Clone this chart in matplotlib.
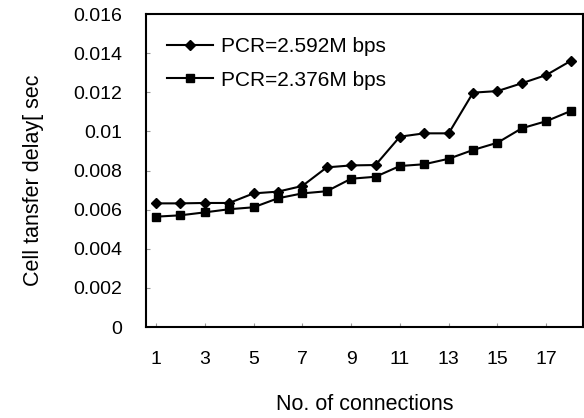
import matplotlib
matplotlib.use("Agg")
import matplotlib.pyplot as plt

plt.rcParams['font.family'] = ['Liberation Sans', 'DejaVu Sans']

connections = list(range(1, 19))
pcr_2592 = [0.00632, 0.00632, 0.00634, 0.00634, 0.00683, 0.00692, 0.00721, 0.00816, 0.00826,
            0.00828, 0.00973, 0.0099, 0.0099, 0.01198, 0.01206, 0.01246, 0.01288, 0.0136]
pcr_2376 = [0.00564, 0.00571, 0.00586, 0.00602, 0.00612, 0.00658, 0.00683, 0.00694, 0.00758,
            0.00768, 0.00823, 0.00832, 0.0086, 0.00905, 0.00942, 0.01016, 0.01052, 0.01104]
xticks = [1, 3, 5, 7, 9, 11, 13, 15, 17]
yticks = [0, 0.002, 0.004, 0.006, 0.008, 0.01, 0.012, 0.014, 0.016]
ytick_labels = ['0', '0.002', '0.004', '0.006', '0.008', '0.01', '0.012', '0.014', '0.016']

fig = plt.figure(figsize=(5.84, 4.18), dpi=100)
ax = fig.add_axes([0.25, 0.2177, 0.748, 0.7488])

ax.plot(connections, pcr_2592, color='black', lw=1.5, marker='D', ms=5.5,
        label='PCR=2.592M bps')
ax.plot(connections, pcr_2376, color='black', lw=1.5, marker='s', ms=5.5,
        label='PCR=2.376M bps')

ax.set_xlim(0.59, 18.5)
ax.set_ylim(0, 0.016)
ax.set_xticks(xticks)
ax.set_yticks(yticks)
ax.set_yticklabels(ytick_labels)
ax.tick_params(axis='x', direction='in', length=3, color='#999999', pad=17, labelsize=14)
ax.tick_params(axis='y', direction='in', length=3, color='#999999', pad=17, labelsize=14)
for s in ax.spines.values():
    s.set_linewidth(1.5)

ax.set_xlabel('No. of connections', fontsize=15.5)
ax.set_ylabel('Cell tansfer delay[ sec', fontsize=15.5)
ax.xaxis.set_label_coords(0.5, -0.215)
ax.yaxis.set_label_coords(-0.233, 0.47)

ax.legend(loc='upper left', frameon=False, fontsize=15, handlelength=2.2,
          handletextpad=0.4, labelspacing=0.7, bbox_to_anchor=(0.01, 0.98),
          borderaxespad=0.4)

fig.savefig('out.png', dpi=100)
